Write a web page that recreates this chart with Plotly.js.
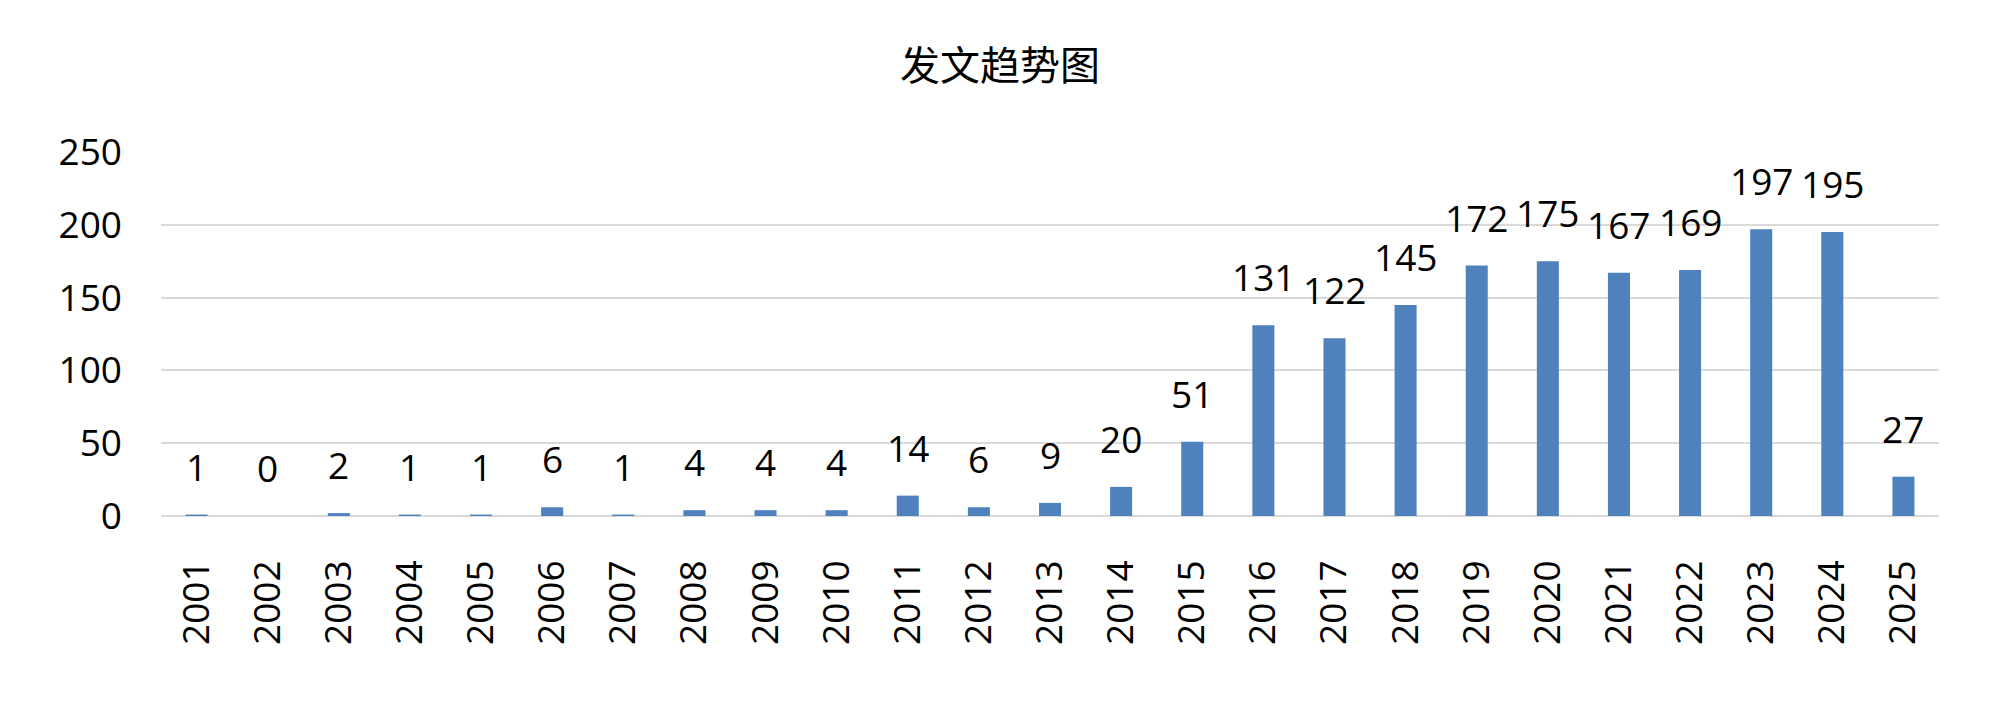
<!DOCTYPE html>
<html>
<head>
<meta charset="utf-8">
<script src="https://cdn.plot.ly/plotly-3.0.1.min.js"></script>
<style>html,body{margin:0;padding:0;background:#fff;}#chart{width:2000px;height:703px;}</style>
</head>
<body>
<div id="chart"></div>
<script>
const years = ['2001','2002','2003','2004','2005','2006','2007','2008','2009','2010','2011','2012','2013','2014','2015','2016','2017','2018','2019','2020','2021','2022','2023','2024','2025'];
const counts = [1,0,2,1,1,6,1,4,4,4,14,6,9,20,51,131,122,145,172,175,167,169,197,195,27];
const yTicks = [0,50,100,150,200,250];
const chartTitle = '发文趋势图';

const FONT = '"Open Sans", "Noto Sans", sans-serif';

// annotations placed by category index (serial position on the category axis)
const annotations = years.map((y, i) => ({
  x: i, y: counts[i], xref: 'x', yref: 'y',
  text: String(counts[i]), showarrow: false,
  yanchor: 'bottom', xanchor: 'center', yshift: 21,
  font: {family: FONT, size: 37, color: '#000'}
}));

const data = [{
  type: 'bar', x: years, y: counts,
  marker: {color: '#4f81bd'},
  hoverinfo: 'x+y'
}];

const layout = {
  width: 2000, height: 703,
  paper_bgcolor: '#fff', plot_bgcolor: '#fff',
  margin: {l: 161, r: 61, t: 152, b: 187},
  bargap: 0.69,
  showlegend: false,
  title: {text: chartTitle, x: 0.5, xref: 'container', y: 1 - 66/703, yref: 'container', yanchor: 'middle', xanchor: 'center',
    font: {family: '"Noto Sans CJK SC", sans-serif', size: 40, color: '#000'}},
  xaxis: {type: 'category', range: [-0.5, years.length - 0.5], tickangle: -90, ticks: '', showgrid: false, showline: false, zeroline: false,
    ticklabelstandoff: 36,
    tickfont: {family: FONT, size: 37, color: '#000'}},
  yaxis: {range: [0, 250], tickvals: yTicks, ticktext: yTicks.map(String), ticks: '', showline: false,
    showgrid: true, gridcolor: '#d9d9d9', gridwidth: 2, zeroline: true, zerolinecolor: '#d9d9d9', zerolinewidth: 2,
    ticklabelstandoff: 38,
    tickfont: {family: FONT, size: 37, color: '#000'}},
  annotations: annotations
};

Plotly.newPlot('chart', data, layout, {displayModeBar: false, staticPlot: true});
</script>
</body>
</html>
